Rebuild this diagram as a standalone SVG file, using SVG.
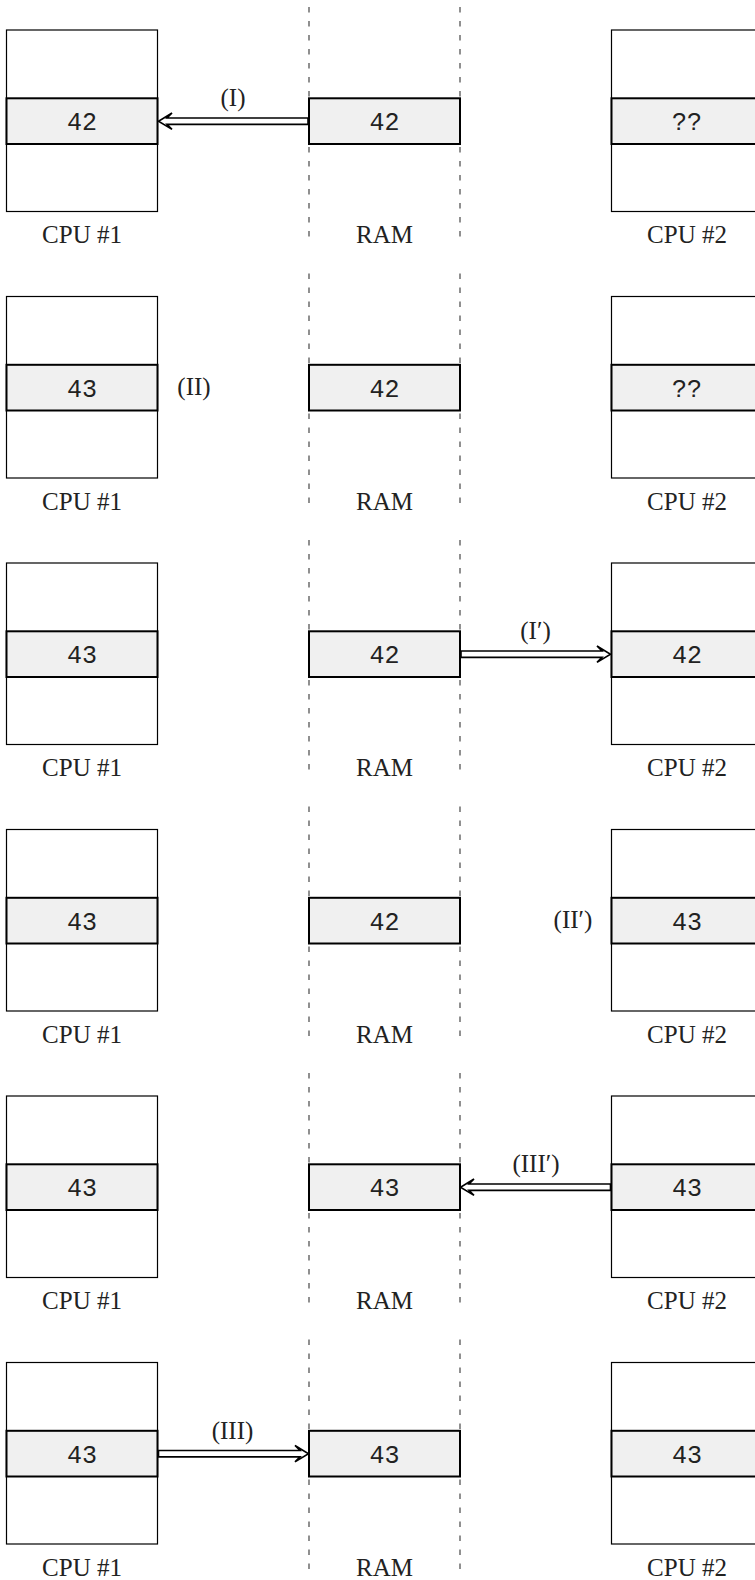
<svg xmlns="http://www.w3.org/2000/svg" width="755" height="1580" viewBox="0 0 755 1580">
<style>
.box{fill:#ffffff;stroke:#000;stroke-width:1.2}
.cell{fill:#f0f0f0;stroke:#000;stroke-width:2}
.dash{stroke:#555;stroke-width:1.3;stroke-dasharray:5.5 8.5;fill:none}
.val{font-family:"Liberation Mono",monospace;font-size:25px;text-anchor:middle;fill:#222}
.lbl{font-family:"Liberation Serif",serif;font-size:25px;text-anchor:middle;fill:#222}
.arrow{fill:#fff;stroke:#000;stroke-width:1.6;stroke-linejoin:miter}
</style>
<rect width="755" height="1580" fill="#fff"/>

<!-- Row 1: T=30 -->
<g id="row1">
<g id="r1-ramlines"><line class="dash" x1="309" y1="7" x2="309" y2="237"/><line class="dash" x1="460" y1="7" x2="460" y2="237"/></g>
<g id="r1-cpu1"><rect class="box" x="6.5" y="30" width="151" height="181.5"/><rect class="cell" x="6.5" y="98.3" width="151" height="45.7"/><text class="val" x="82" y="130">42</text><text class="lbl" x="82" y="243">CPU #1</text></g>
<g id="r1-ram"><rect class="cell" x="309" y="98.3" width="151" height="45.7"/><text class="val" x="384.5" y="130">42</text><text class="lbl" x="384.5" y="243">RAM</text></g>
<g id="r1-cpu2"><rect class="box" x="611.5" y="30" width="151" height="181.5"/><rect class="cell" x="611.5" y="98.3" width="151" height="45.7"/><text class="val" x="687" y="130">??</text><text class="lbl" x="687" y="243">CPU #2</text></g>
</g>

<!-- Row 2: T=296.5 -->
<g id="row2">
<g id="r2-ramlines"><line class="dash" x1="309" y1="273.5" x2="309" y2="503.5"/><line class="dash" x1="460" y1="273.5" x2="460" y2="503.5"/></g>
<g id="r2-cpu1"><rect class="box" x="6.5" y="296.5" width="151" height="181.5"/><rect class="cell" x="6.5" y="364.8" width="151" height="45.7"/><text class="val" x="82" y="396.5">43</text><text class="lbl" x="82" y="509.5">CPU #1</text></g>
<g id="r2-ram"><rect class="cell" x="309" y="364.8" width="151" height="45.7"/><text class="val" x="384.5" y="396.5">42</text><text class="lbl" x="384.5" y="509.5">RAM</text></g>
<g id="r2-cpu2"><rect class="box" x="611.5" y="296.5" width="151" height="181.5"/><rect class="cell" x="611.5" y="364.8" width="151" height="45.7"/><text class="val" x="687" y="396.5">??</text><text class="lbl" x="687" y="509.5">CPU #2</text></g>
<text class="lbl" x="194" y="395">(II)</text>
</g>

<!-- Row 3: T=563 -->
<g id="row3">
<g id="r3-ramlines"><line class="dash" x1="309" y1="540" x2="309" y2="770"/><line class="dash" x1="460" y1="540" x2="460" y2="770"/></g>
<g id="r3-cpu1"><rect class="box" x="6.5" y="563" width="151" height="181.5"/><rect class="cell" x="6.5" y="631.3" width="151" height="45.7"/><text class="val" x="82" y="663">43</text><text class="lbl" x="82" y="776">CPU #1</text></g>
<g id="r3-ram"><rect class="cell" x="309" y="631.3" width="151" height="45.7"/><text class="val" x="384.5" y="663">42</text><text class="lbl" x="384.5" y="776">RAM</text></g>
<g id="r3-cpu2"><rect class="box" x="611.5" y="563" width="151" height="181.5"/><rect class="cell" x="611.5" y="631.3" width="151" height="45.7"/><text class="val" x="687" y="663">42</text><text class="lbl" x="687" y="776">CPU #2</text></g>
</g>

<!-- Row 4: T=829.5 -->
<g id="row4">
<g id="r4-ramlines"><line class="dash" x1="309" y1="806.5" x2="309" y2="1036.5"/><line class="dash" x1="460" y1="806.5" x2="460" y2="1036.5"/></g>
<g id="r4-cpu1"><rect class="box" x="6.5" y="829.5" width="151" height="181.5"/><rect class="cell" x="6.5" y="897.8" width="151" height="45.7"/><text class="val" x="82" y="929.5">43</text><text class="lbl" x="82" y="1042.5">CPU #1</text></g>
<g id="r4-ram"><rect class="cell" x="309" y="897.8" width="151" height="45.7"/><text class="val" x="384.5" y="929.5">42</text><text class="lbl" x="384.5" y="1042.5">RAM</text></g>
<g id="r4-cpu2"><rect class="box" x="611.5" y="829.5" width="151" height="181.5"/><rect class="cell" x="611.5" y="897.8" width="151" height="45.7"/><text class="val" x="687" y="929.5">43</text><text class="lbl" x="687" y="1042.5">CPU #2</text></g>
<text class="lbl" x="573" y="928">(II′)</text>
</g>

<!-- Row 5: T=1096 -->
<g id="row5">
<g id="r5-ramlines"><line class="dash" x1="309" y1="1073" x2="309" y2="1303"/><line class="dash" x1="460" y1="1073" x2="460" y2="1303"/></g>
<g id="r5-cpu1"><rect class="box" x="6.5" y="1096" width="151" height="181.5"/><rect class="cell" x="6.5" y="1164.3" width="151" height="45.7"/><text class="val" x="82" y="1196">43</text><text class="lbl" x="82" y="1309">CPU #1</text></g>
<g id="r5-ram"><rect class="cell" x="309" y="1164.3" width="151" height="45.7"/><text class="val" x="384.5" y="1196">43</text><text class="lbl" x="384.5" y="1309">RAM</text></g>
<g id="r5-cpu2"><rect class="box" x="611.5" y="1096" width="151" height="181.5"/><rect class="cell" x="611.5" y="1164.3" width="151" height="45.7"/><text class="val" x="687" y="1196">43</text><text class="lbl" x="687" y="1309">CPU #2</text></g>
</g>

<!-- Row 6: T=1362.5 -->
<g id="row6">
<g id="r6-ramlines"><line class="dash" x1="309" y1="1339.5" x2="309" y2="1569.5"/><line class="dash" x1="460" y1="1339.5" x2="460" y2="1569.5"/></g>
<g id="r6-cpu1"><rect class="box" x="6.5" y="1362.5" width="151" height="181.5"/><rect class="cell" x="6.5" y="1430.8" width="151" height="45.7"/><text class="val" x="82" y="1462.5">43</text><text class="lbl" x="82" y="1575.5">CPU #1</text></g>
<g id="r6-ram"><rect class="cell" x="309" y="1430.8" width="151" height="45.7"/><text class="val" x="384.5" y="1462.5">43</text><text class="lbl" x="384.5" y="1575.5">RAM</text></g>
<g id="r6-cpu2"><rect class="box" x="611.5" y="1362.5" width="151" height="181.5"/><rect class="cell" x="611.5" y="1430.8" width="151" height="45.7"/><text class="val" x="687" y="1462.5">43</text><text class="lbl" x="687" y="1575.5">CPU #2</text></g>
</g>

<g id="connectors">
<!-- (I) RAM -> CPU1, row1, yc=121.2 -->
<path class="arrow" d="M308,118 H167 L172,113 L158.5,121.2 L172,129.4 L167,124.4 H308 Z"/>
<text class="lbl" x="233" y="106">(I)</text>
<!-- (I') RAM -> CPU2, row3, yc=654.2 -->
<path class="arrow" d="M461,651 H602 L597,646 L610.5,654.2 L597,662.4 L602,657.4 H461 Z"/>
<text class="lbl" x="535.5" y="639">(I′)</text>
<!-- (III') CPU2 -> RAM, row5, yc=1187.2 -->
<path class="arrow" d="M610.5,1184 H469 L474,1179 L460.5,1187.2 L474,1195.4 L469,1190.4 H610.5 Z"/>
<text class="lbl" x="536" y="1172">(III′)</text>
<!-- (III) CPU1 -> RAM, row6, yc=1453.7 -->
<path class="arrow" d="M158.5,1450.5 H300 L295,1445.5 L308.5,1453.7 L295,1461.9 L300,1456.9 H158.5 Z"/>
<text class="lbl" x="232.5" y="1438.5">(III)</text>
</g>
</svg>
